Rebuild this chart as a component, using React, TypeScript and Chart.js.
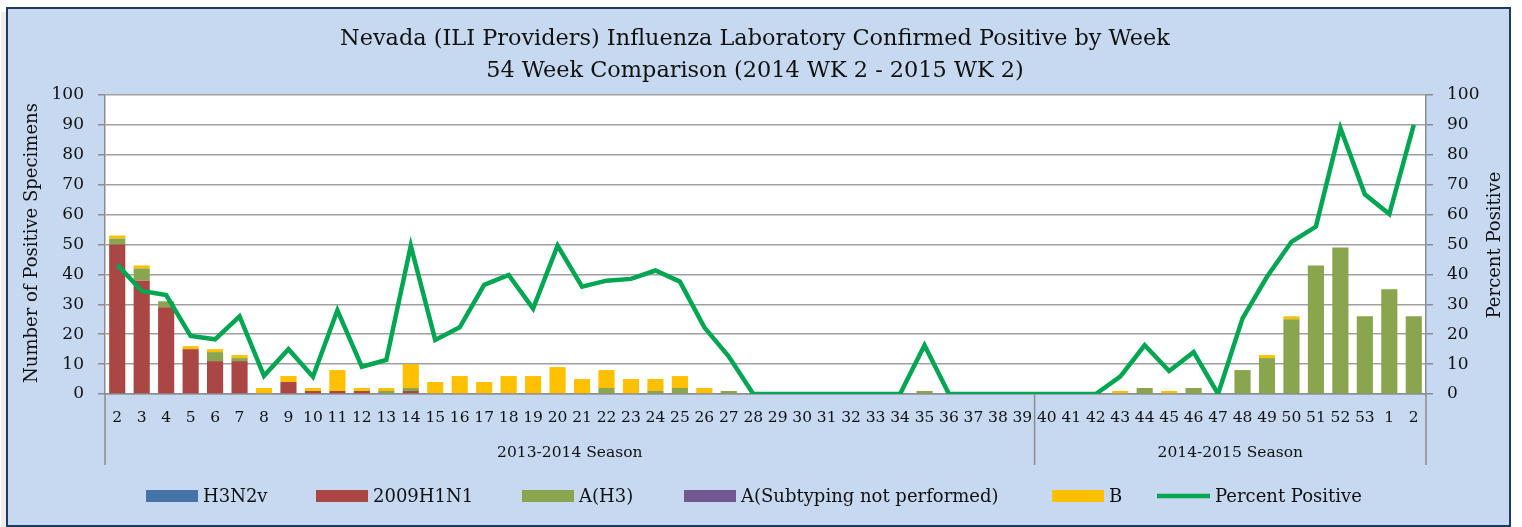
import React, { useEffect, useRef } from 'react';
import { Chart, registerables } from 'chart.js';

Chart.register(...registerables);

const weekLabels = ['2','3','4','5','6','7','8','9','10','11','12','13','14','15','16','17','18','19','20','21','22','23','24','25','26','27','28','29','30','31','32','33','34','35','36','37','38','39','40','41','42','43','44','45','46','47','48','49','50','51','52','53','1','2'];

const seasonLabels = ['2013-2014 Season', '2014-2015 Season'];
const seasonSpans = [38, 16];

const titleLines = [
  'Nevada (ILI Providers) Influenza Laboratory Confirmed Positive by Week',
  '54 Week Comparison (2014 WK 2 - 2015 WK 2)',
];
const leftAxisTitle = 'Number of Positive Specimens';
const rightAxisTitle = 'Percent Positive';

const h3n2v = [0,0,0,0,0,0,0,0,0,0,0,0,0,0,0,0,0,0,0,0,0,0,0,0,0,0,0,0,0,0,0,0,0,0,0,0,0,0,0,0,0,0,0,0,0,0,0,0,0,0,0,0,0,0];
const h1n1 = [50,38,29,15,11,11,0,4,1,1,1,0,1,0,0,0,0,0,0,0,0,0,0,0,0,0,0,0,0,0,0,0,0,0,0,0,0,0,0,0,0,0,0,0,0,0,0,0,0,0,0,0,0,0];
const aH3 = [2,4,2,0,3,1,0,0,0,0,0,1,1,0,0,0,0,0,0,0,2,0,1,2,0,1,0,0,0,0,0,0,0,1,0,0,0,0,0,0,0,0,2,0,2,0,8,12,25,43,49,26,35,26];
const aNotSubtyped = [0,0,0,0,0,0,0,0,0,0,0,0,0,0,0,0,0,0,0,0,0,0,0,0,0,0,0,0,0,0,0,0,0,0,0,0,0,0,0,0,0,0,0,0,0,0,0,0,0,0,0,0,0,0];
const fluB = [1,1,0,1,1,1,2,2,1,7,1,1,8,4,6,4,6,6,9,5,6,5,4,4,2,0,0,0,0,0,0,0,0,0,0,0,0,0,0,0,0,1,0,1,0,0,0,1,1,0,0,0,0,0];
const percentPositive = [43.2,34.5,33.1,19.4,18.3,26,6.1,15,5.8,28,9.1,11.4,49.6,18.1,22.3,36.5,39.8,28.6,49.6,35.9,37.9,38.5,41.3,37.6,22.3,12.5,0,0,0,0,0,0,0,16.3,0,0,0,0,0,0,0,5.8,16.3,7.7,14,0,25.3,39.2,50.9,56,89,66.8,60.2,90];

const FONT = '"DejaVu Serif", serif';
const TEXT = '#111111';
const AXIS = '#8c8c8c';
const GRID = '#a0a0a0';
const C_H3N2V = '#4572a7';
const C_H1N1 = '#aa4643';
const C_H3 = '#89a54e';
const C_SUB = '#71588f';
const C_B = '#ffc000';
const C_LINE = '#00a651';

const framePlugin = {
  id: 'frame',
  beforeDraw(chart: any) {
    const { ctx, chartArea: ca } = chart;
    ctx.save();
    ctx.fillStyle = '#ffffff';
    ctx.fillRect(0, 0, chart.width, chart.height);
    ctx.fillStyle = 'rgba(0,0,0,0.07)';
    ctx.fillRect(1, 12, 7, 516);
    ctx.fillStyle = '#c6d9f1';
    ctx.fillRect(7, 8, 1503, 518);
    ctx.strokeStyle = '#1f3a5f';
    ctx.lineWidth = 2;
    ctx.strokeRect(7, 8, 1503, 518);
    ctx.fillStyle = '#ffffff';
    ctx.fillRect(ca.left, ca.top, ca.right - ca.left, ca.bottom - ca.top);
    ctx.restore();
  },
  afterDraw(chart: any) {
    const { ctx, chartArea: ca, scales } = chart;
    const xs = scales.x;
    ctx.save();
    ctx.strokeStyle = AXIS;
    ctx.lineWidth = 1.5;
    const bounds: number[] = [ca.left];
    let idx = 0;
    seasonSpans.forEach((n, i) => {
      idx += n;
      if (i < seasonSpans.length - 1) {
        bounds.push((xs.getPixelForValue(idx - 1) + xs.getPixelForValue(idx)) / 2);
      }
    });
    bounds.push(ca.right);
    bounds.forEach((px) => {
      ctx.beginPath();
      ctx.moveTo(px, ca.bottom);
      ctx.lineTo(px, 465);
      ctx.stroke();
    });
    ctx.fillStyle = TEXT;
    ctx.textAlign = 'center';
    ctx.textBaseline = 'middle';
    ctx.font = `15.5px ${FONT}`;
    seasonLabels.forEach((s, i) => {
      ctx.fillText(s, (bounds[i] + bounds[i + 1]) / 2, 453);
    });
    ctx.font = `22.4px ${FONT}`;
    ctx.fillText(titleLines[0], 755, 39);
    ctx.fillText(titleLines[1], 755, 71);
    ctx.font = `18px ${FONT}`;
    ctx.save();
    ctx.translate(32, 243);
    ctx.rotate(-Math.PI / 2);
    ctx.fillText(leftAxisTitle, 0, 0);
    ctx.restore();
    ctx.save();
    ctx.translate(1495, 245);
    ctx.rotate(-Math.PI / 2);
    ctx.fillText(rightAxisTitle, 0, 0);
    ctx.restore();
    const order = [1, 2, 3, 4, 5, 0];
    const starts = [146, 316, 522, 684, 1052, 1157];
    ctx.font = `18px ${FONT}`;
    ctx.textAlign = 'left';
    order.forEach((di, k) => {
      const ds = chart.data.datasets[di];
      const x0 = starts[k];
      if (ds.type === 'line') {
        ctx.strokeStyle = ds.borderColor;
        ctx.lineWidth = 4.5;
        ctx.beginPath();
        ctx.moveTo(x0, 496);
        ctx.lineTo(x0 + 53, 496);
        ctx.stroke();
        ctx.fillStyle = TEXT;
        ctx.fillText(ds.label, x0 + 58, 497);
      } else {
        ctx.fillStyle = ds.backgroundColor;
        ctx.fillRect(x0, 490, 52, 12);
        ctx.fillStyle = TEXT;
        ctx.fillText(ds.label, x0 + 57, 497);
      }
    });
    ctx.restore();
  },
};

export default function App() {
  const ref = useRef<HTMLCanvasElement | null>(null);
  useEffect(() => {
    document.body.style.margin = '0';
    const canvas = ref.current;
    if (!canvas) return;
    const tickFont = { family: FONT, size: 17 };
    const chart = new Chart(canvas, {
      type: 'bar',
      data: {
        labels: weekLabels,
        datasets: [
          {
            type: 'line',
            label: 'Percent Positive',
            data: percentPositive,
            yAxisID: 'y1',
            borderColor: C_LINE,
            backgroundColor: C_LINE,
            borderWidth: 4.5,
            pointRadius: 0,
            tension: 0,
            fill: false,
            borderJoinStyle: 'miter',
            order: 0,
          } as any,
          { label: 'H3N2v', data: h3n2v, backgroundColor: C_H3N2V, yAxisID: 'y', order: 1 },
          { label: '2009H1N1', data: h1n1, backgroundColor: C_H1N1, yAxisID: 'y', order: 1 },
          { label: 'A(H3)', data: aH3, backgroundColor: C_H3, yAxisID: 'y', order: 1 },
          { label: 'A(Subtyping not performed)', data: aNotSubtyped, backgroundColor: C_SUB, yAxisID: 'y', order: 1 },
          { label: 'B', data: fluB, backgroundColor: C_B, yAxisID: 'y', order: 1 },
        ],
      },
      options: {
        responsive: false,
        animation: false,
        devicePixelRatio: 1,
        layout: { padding: { top: 95, left: 0, right: 0, bottom: 0 } },
        plugins: {
          legend: { display: false },
          title: { display: false },
          tooltip: { enabled: false },
        },
        datasets: { bar: { barPercentage: 0.66, categoryPercentage: 1 } },
        scales: {
          x: {
            stacked: true,
            offset: true,
            grid: { display: true, drawOnChartArea: false, drawTicks: false },
            border: { display: true, color: AXIS, width: 1.5 },
            ticks: { font: { family: FONT, size: 15.5 }, color: TEXT, padding: 15, autoSkip: false, maxRotation: 0, minRotation: 0 },
            afterFit: (s: any) => { s.height = 133; },
          },
          y: {
            position: 'left',
            stacked: true,
            min: 0,
            max: 100,
            ticks: { stepSize: 10, font: tickFont, color: TEXT, padding: 14 },
            grid: { color: GRID, lineWidth: 1.5, tickLength: 7, tickColor: AXIS },
            border: { display: true, color: AXIS, width: 1.5 },
            afterFit: (s: any) => { s.width = 105; },
          },
          y1: {
            position: 'right',
            min: 0,
            max: 100,
            ticks: { stepSize: 10, font: tickFont, color: TEXT, padding: 14 },
            grid: { drawOnChartArea: false, color: GRID, lineWidth: 1.5, tickLength: 7, tickColor: AXIS },
            border: { display: true, color: AXIS, width: 1.5 },
            afterFit: (s: any) => { s.width = 96; },
          },
        } as any,
      },
      plugins: [framePlugin],
    });
    return () => chart.destroy();
  }, []);
  return (
    <div style={{ width: 1522, height: 527 }}>
      <canvas ref={ref} width={1522} height={527} style={{ display: 'block' }} />
    </div>
  );
}
